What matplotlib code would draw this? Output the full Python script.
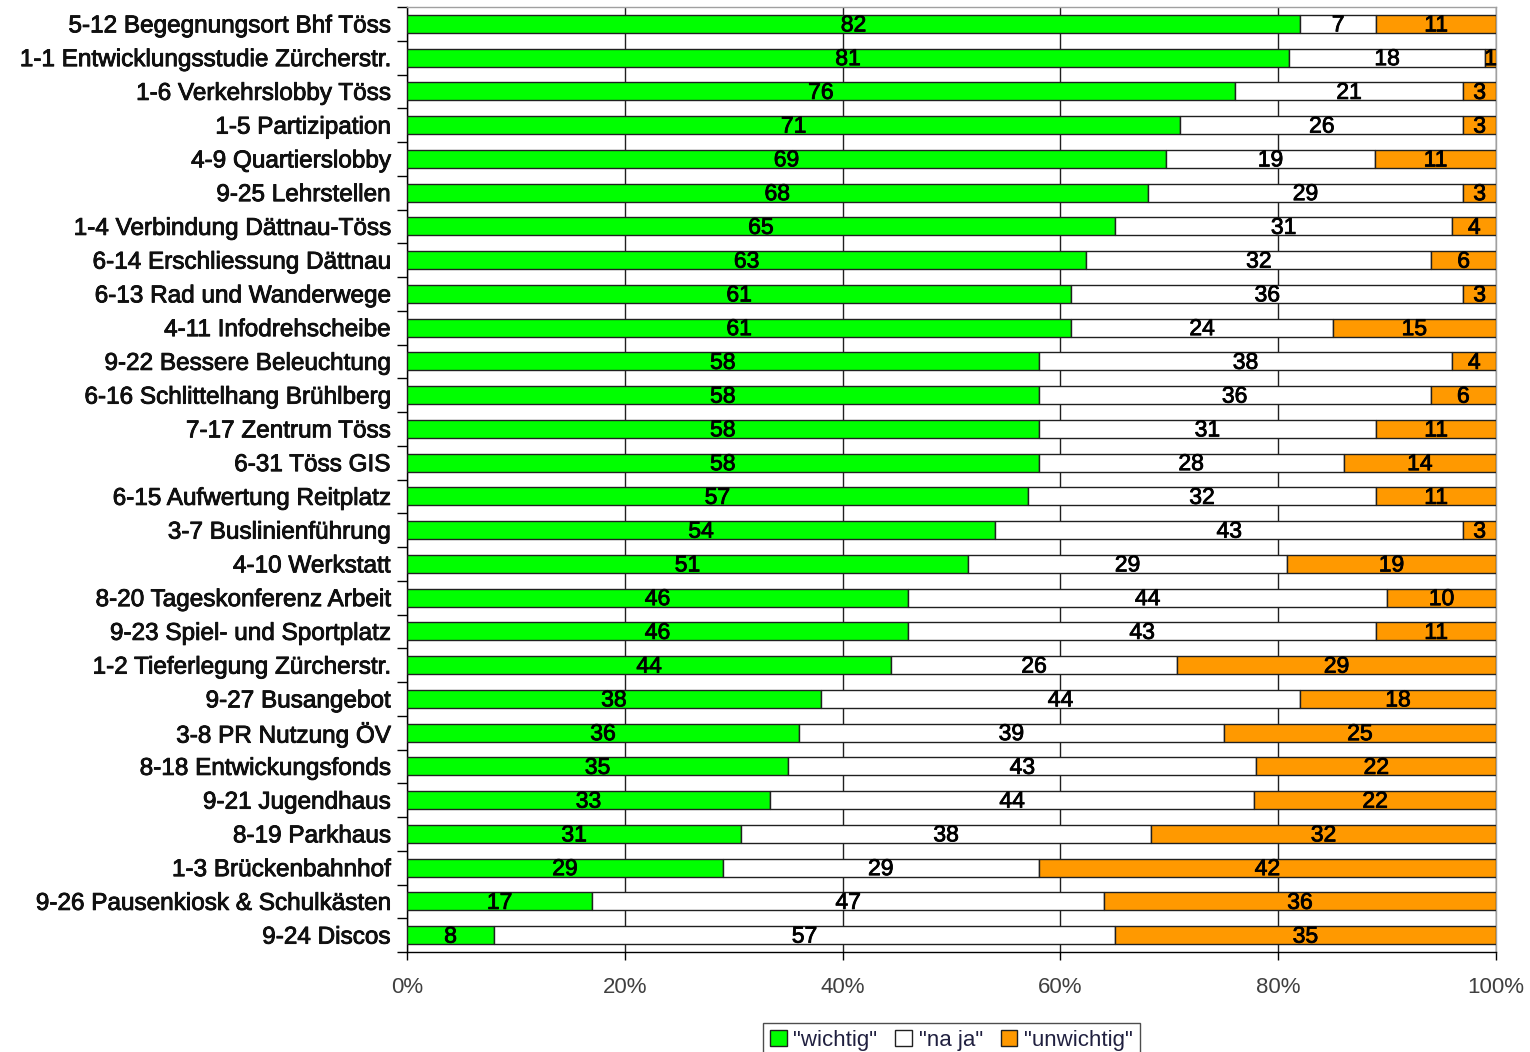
import numpy as np
import matplotlib
matplotlib.use("Agg")
import matplotlib.pyplot as plt
import matplotlib.patheffects as pe

plt.rcParams["font.family"] = ["Liberation Sans", "DejaVu Sans"]

categories = [
    "5-12 Begegnungsort Bhf Töss",
    "1-1 Entwicklungsstudie Zürcherstr.",
    "1-6 Verkehrslobby Töss",
    "1-5 Partizipation",
    "4-9 Quartierslobby",
    "9-25 Lehrstellen",
    "1-4 Verbindung Dättnau-Töss",
    "6-14 Erschliessung Dättnau",
    "6-13 Rad und Wanderwege",
    "4-11 Infodrehscheibe",
    "9-22 Bessere Beleuchtung",
    "6-16 Schlittelhang Brühlberg",
    "7-17 Zentrum Töss",
    "6-31 Töss GIS",
    "6-15 Aufwertung Reitplatz",
    "3-7 Buslinienführung",
    "4-10 Werkstatt",
    "8-20 Tageskonferenz Arbeit",
    "9-23 Spiel- und Sportplatz",
    "1-2 Tieferlegung Zürcherstr.",
    "9-27 Busangebot",
    "3-8 PR Nutzung ÖV",
    "8-18 Entwickungsfonds",
    "9-21 Jugendhaus",
    "8-19 Parkhaus",
    "1-3 Brückenbahnhof",
    "9-26 Pausenkiosk & Schulkästen",
    "9-24 Discos",
]
wichtig = [82, 81, 76, 71, 69, 68, 65, 63, 61, 61, 58, 58, 58, 58, 57, 54, 51,
           46, 46, 44, 38, 36, 35, 33, 31, 29, 17, 8]
naja = [7, 18, 21, 26, 19, 29, 31, 32, 36, 24, 38, 36, 31, 28, 32, 43, 29,
        44, 43, 26, 44, 39, 43, 44, 38, 29, 47, 57]
unwichtig = [11, 1, 3, 3, 11, 3, 4, 6, 3, 15, 4, 6, 11, 14, 11, 3, 19,
             10, 11, 29, 18, 25, 22, 22, 32, 42, 36, 35]

series = [
    ('"wichtig"', wichtig, "#00ff00"),
    ('"na ja"', naja, "#ffffff"),
    ('"unwichtig"', unwichtig, "#ff9900"),
]

vals = np.array([wichtig, naja, unwichtig], dtype=float)
fracs = vals / vals.sum(axis=0)

# slightly heavier text, like the original rendering
heavy = [pe.withStroke(linewidth=0.6, foreground="black")]

fig = plt.figure(figsize=(15.3, 10.52), dpi=100)
ax = fig.add_axes([407 / 1530, 1 - 952 / 1052, 1089 / 1530, 945 / 1052])

n = len(categories)
y = np.arange(n)
left = np.zeros(n)
for (name, raw, color), fr in zip(series, fracs):
    ax.barh(y, fr, left=left, height=0.53, color=color, edgecolor="#202020",
            linewidth=1.0, label=name, zorder=3)
    # count labels centred in each segment
    for yi, (l, w, v) in enumerate(zip(left, fr, raw)):
        ax.text(l + w / 2, yi + 0.03, str(v), ha="center", va="center",
                fontsize=16.5, color="black", zorder=4, path_effects=heavy)
    left = left + fr

ax.set_xlim(0, 1)
ax.set_ylim(n - 0.5, -0.5)
ax.set_xticks(np.linspace(0, 1, 6))
ax.set_xticklabels([f"{int(p)}%" for p in np.linspace(0, 100, 6)],
                   fontsize=16, color="#404040")
ax.tick_params(axis="x", direction="out", length=6, width=1, color="black", pad=12)
ax.xaxis.grid(True, color="#202020", linewidth=1.0, zorder=1)

ax.set_yticks(y)
ax.set_yticklabels(categories, fontsize=17.5, color="#111111")
for lab in ax.get_yticklabels():
    lab.set_path_effects(heavy)
ax.tick_params(axis="y", which="major", length=0, pad=12)
ax.set_yticks(np.arange(-0.5, n, 1), minor=True)
ax.tick_params(axis="y", which="minor", direction="out", length=7, width=1, color="black")

ax.spines["left"].set_color("black")
ax.spines["bottom"].set_color("black")
ax.spines["top"].set_color("#a0a0a0")
ax.spines["right"].set_color("#a0a0a0")
for s in ax.spines.values():
    s.set_linewidth(1.0)

leg = ax.legend(loc="upper center", bbox_to_anchor=(0.5, -0.075), ncol=3,
                frameon=True, fancybox=False, edgecolor="#202020", fontsize=16,
                handlelength=0.75, handleheight=0.75, handletextpad=0.3,
                columnspacing=0.8, borderpad=0.3, borderaxespad=0)
leg.get_frame().set_linewidth(1.0)
for t in leg.get_texts():
    t.set_color("#202040")

fig.savefig("out.png", dpi=100)
